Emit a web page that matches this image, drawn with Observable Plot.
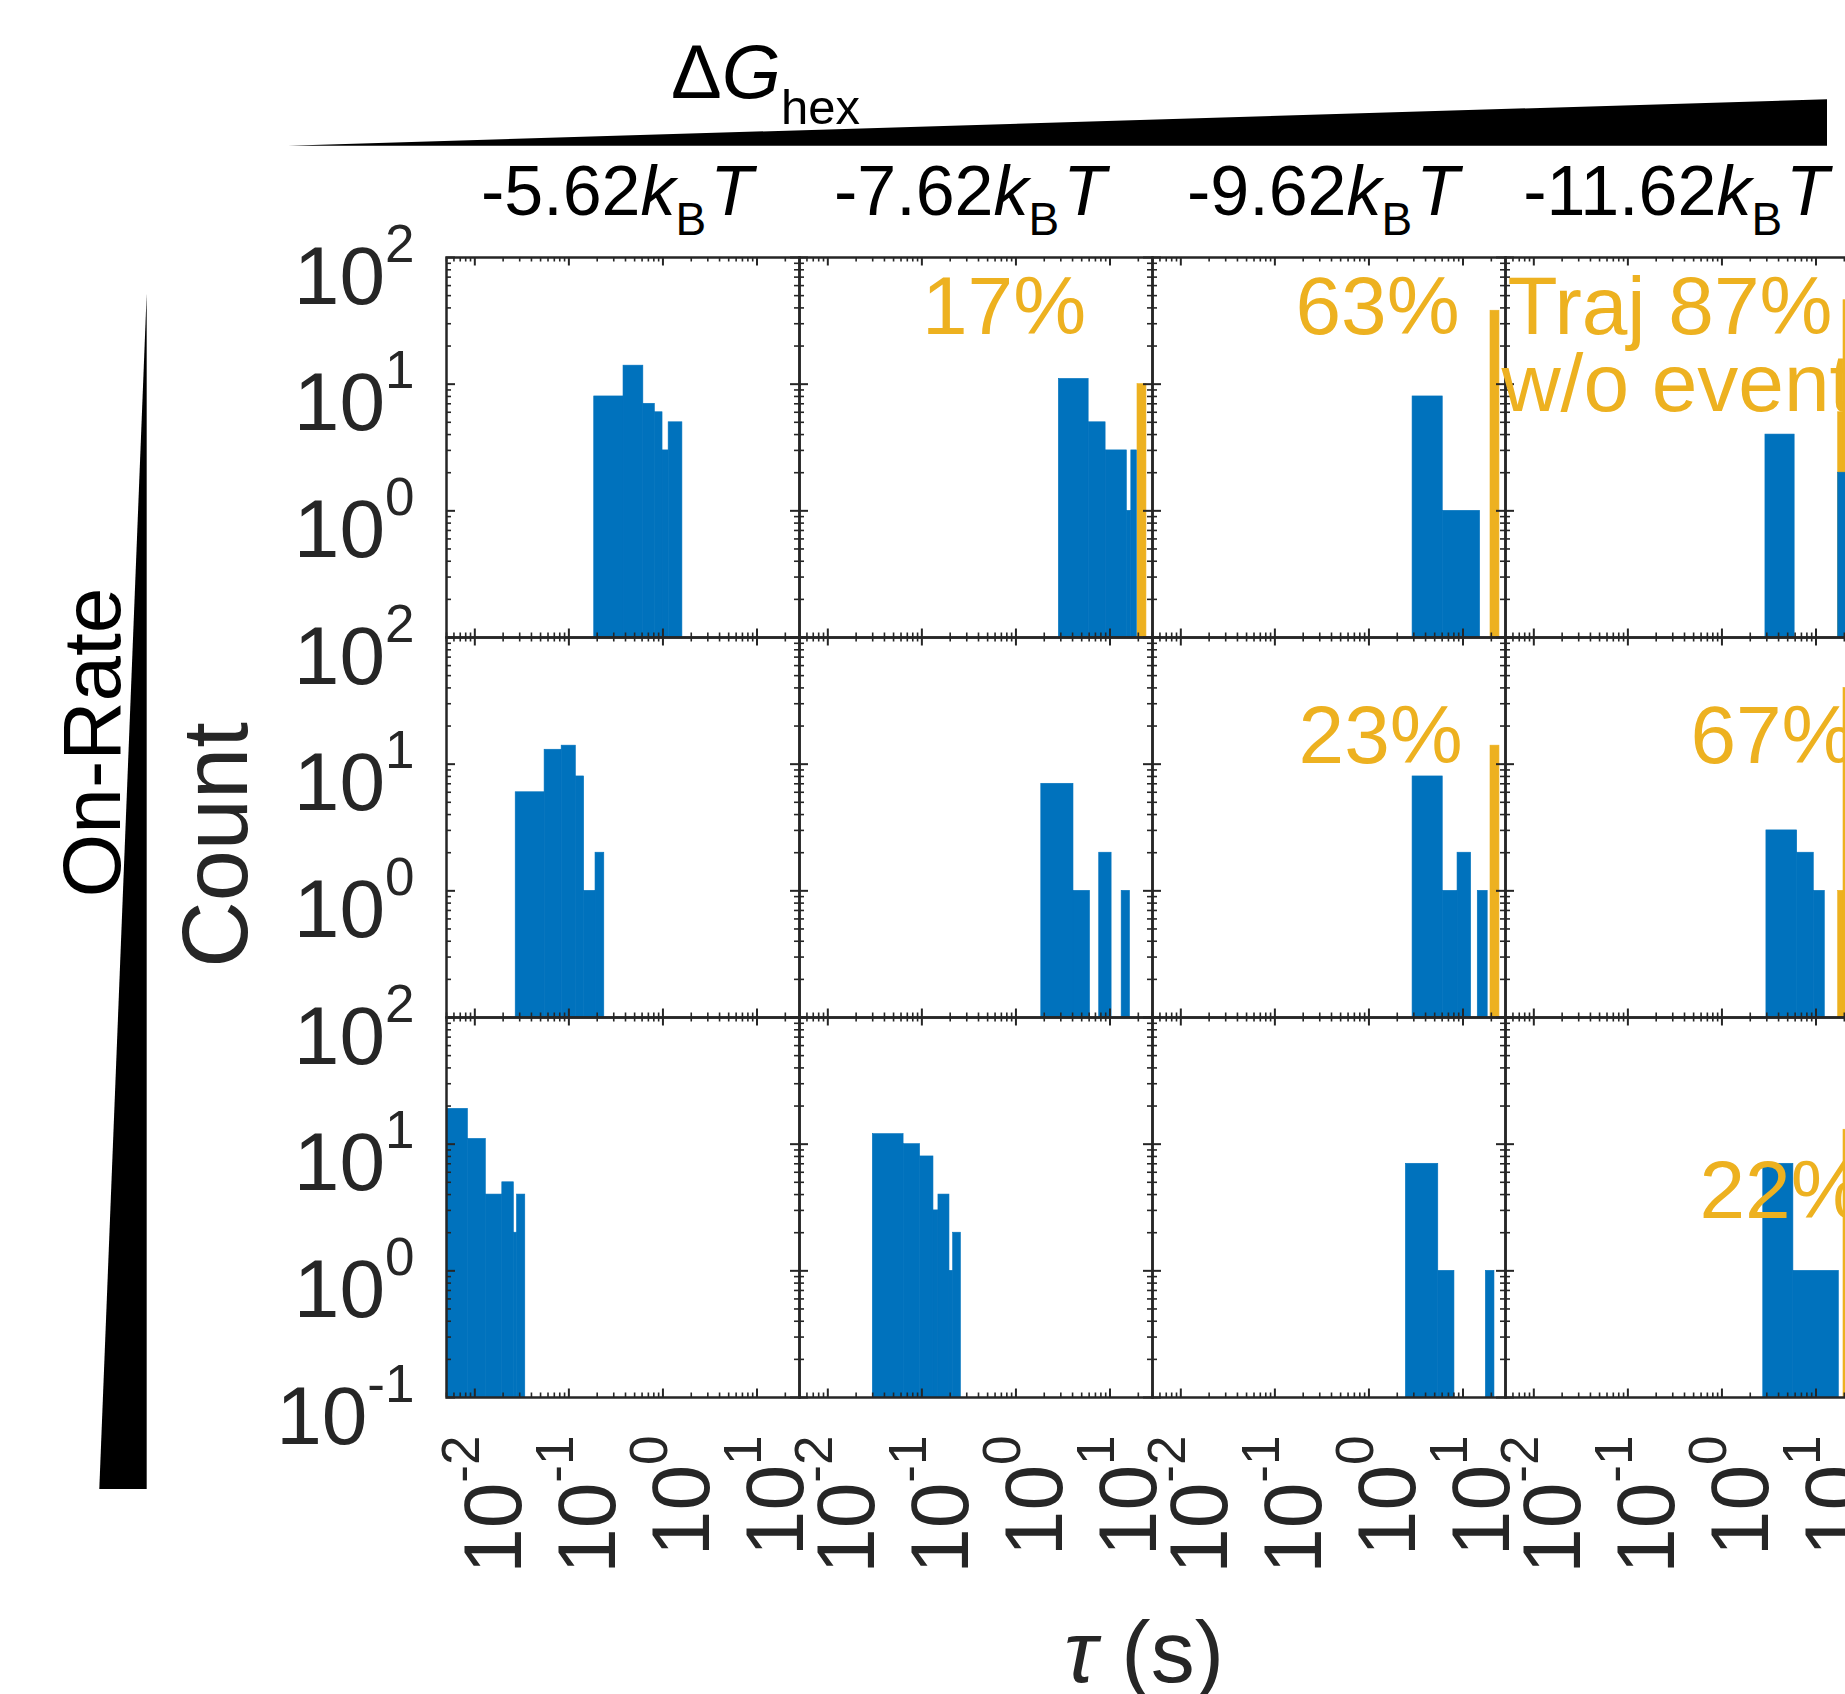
<!DOCTYPE html>
<html><head><meta charset="utf-8">
<script src="https://cdn.jsdelivr.net/npm/d3@7"></script>
<script src="https://cdn.jsdelivr.net/npm/@observablehq/plot@0.6"></script>
<style>
html, body { margin: 0; padding: 0; background: #fff; overflow: hidden; width: 1845px; height: 1694px; }
#chart { position: absolute; left: 0; top: 0; }
</style></head>
<body><div id="chart"></div>
<script>
// ---------- categories ----------
const columns = ["-5.62", "-7.62", "-9.62", "-11.62"];   // ΔG_hex in kBT
const rows = ["low", "mid", "high"];                      // on-rate (increasing downward)

// ---------- tick values ----------
const xMajorTicks = [0.01, 0.1, 1, 10];
const xMinorTicks = [0.005, 0.006, 0.007, 0.008, 0.009,
  0.02, 0.03, 0.04, 0.05, 0.06, 0.07, 0.08, 0.09,
  0.2, 0.3, 0.4, 0.5, 0.6, 0.7, 0.8, 0.9,
  2, 3, 4, 5, 6, 7, 8, 9, 20];
const yMajorTicks = [0.1, 1, 10, 100];
const yMinorTicks = [0.2, 0.3, 0.4, 0.5, 0.6, 0.7, 0.8, 0.9,
  2, 3, 4, 5, 6, 7, 8, 9, 20, 30, 40, 50, 60, 70, 80, 90];
const yLabelTicks = [1, 10, 100];
const yLabelTicksBottom = [0.1];

// ---------- dwell-time histograms (blue): [τ from (s), τ to (s), count] ----------
const hist_low_m562   = [[0.186, 0.381, 8], [0.381, 0.619, 14], [0.619, 0.82, 7], [0.82, 0.99, 6], [0.99, 1.15, 3], [1.15, 1.61, 5]];
const hist_low_m762   = [[2.86, 5.93, 11], [5.93, 8.98, 5], [8.98, 15.1, 3], [15.1, 16.85, 1], [16.85, 19.3, 3]];
const hist_low_m962   = [[2.91, 6.09, 8], [6.09, 15.2, 1]];
const hist_low_m1162  = [[2.90, 5.93, 4], [17.2, 21.5, 2]];
const hist_mid_m562   = [[0.0272, 0.0552, 6], [0.0552, 0.0838, 13], [0.0838, 0.1186, 14], [0.1186, 0.1453, 8], [0.1453, 0.192, 1], [0.192, 0.238, 2]];
const hist_mid_m762   = [[1.86, 4.09, 7], [4.09, 6.13, 1], [7.68, 10.4, 2], [13.3, 16.3, 1]];
const hist_mid_m962   = [[2.91, 6.09, 8], [6.09, 8.75, 1], [8.75, 12.2, 2], [14.35, 18.3, 1]];
const hist_mid_m1162  = [[2.97, 6.31, 3], [6.31, 9.47, 2], [9.47, 12.4, 1]];
const hist_high_m562  = [[0.0045, 0.00845, 19], [0.00845, 0.0131, 11], [0.0131, 0.0196, 4], [0.0196, 0.026, 5], [0.026, 0.0281, 2], [0.0281, 0.0344, 4]];
const hist_high_m762  = [[0.0301, 0.0639, 12], [0.0639, 0.0957, 10], [0.0957, 0.1328, 8], [0.1328, 0.150, 3], [0.150, 0.1965, 4], [0.1965, 0.215, 1], [0.215, 0.260, 2]];
const hist_high_m962  = [[2.47, 5.46, 7], [5.46, 8.11, 1], [17.5, 21.6, 1]];
const hist_high_m1162 = [[2.75, 5.75, 7], [5.75, 17.5, 1]];

// ---------- trajectories without events (orange): [τ from (s), τ to (s), count] ----------
const noEvent_low_m762   = [[19.6, 24.4, 10]];
const noEvent_low_m962   = [[19.6, 24.4, 38]];
const noEvent_low_m1162  = [[17.2, 19.6, 6], [19.6, 24.4, 46]];
const noEvent_mid_m962   = [[19.6, 24.4, 14]];
const noEvent_mid_m1162  = [[17.2, 19.6, 1], [19.6, 24.4, 40]];
const noEvent_high_m1162 = [[19.6, 24.4, 13]];

// ---------- percentage annotations (anchored in data space) ----------
const pctLabels = [
  {row: "low",  col: "-7.62",  text: "17%", x: 5.57,  y: 24.8, anchor: "end"},
  {row: "low",  col: "-9.62",  text: "63%", x: 9.2,   y: 24.8, anchor: "end"},
  {row: "low",  col: "-11.62", text: "87%", x: 14.97, y: 24.8, anchor: "end"},
  {row: "mid",  col: "-9.62",  text: "23%", x: 9.93,  y: 10.3, anchor: "end"},
  {row: "mid",  col: "-11.62", text: "67%", x: 0.462, y: 10.3, anchor: "start"},
  {row: "high", col: "-11.62", text: "22%", x: 0.577, y: 2.59, anchor: "start"},
  {row: "low",  col: "-11.62", text: "Traj", x: 0.00524, y: 24.8, anchor: "start"},
  {row: "low",  col: "-11.62", text: "w/o events", x: 0.00452, y: 6.1, anchor: "start"}
];

// ---------- build tables ----------
const blueSets = [
  ["low", "-5.62", hist_low_m562], ["low", "-7.62", hist_low_m762], ["low", "-9.62", hist_low_m962], ["low", "-11.62", hist_low_m1162],
  ["mid", "-5.62", hist_mid_m562], ["mid", "-7.62", hist_mid_m762], ["mid", "-9.62", hist_mid_m962], ["mid", "-11.62", hist_mid_m1162],
  ["high", "-5.62", hist_high_m562], ["high", "-7.62", hist_high_m762], ["high", "-9.62", hist_high_m962], ["high", "-11.62", hist_high_m1162]
];
const orangeSets = [
  ["low", "-7.62", noEvent_low_m762], ["low", "-9.62", noEvent_low_m962], ["low", "-11.62", noEvent_low_m1162],
  ["mid", "-9.62", noEvent_mid_m962], ["mid", "-11.62", noEvent_mid_m1162],
  ["high", "-11.62", noEvent_high_m1162]
];
const toTable = sets => sets.flatMap(([row, col, bins]) => bins.map(([x1, x2, count]) => ({row, col, x1, x2, count})));
const blue = toTable(blueSets);
const orange = toTable(orangeSets);
const yLabelData = rows.flatMap(r => yLabelTicks.map(v => ({row: r, v})))
  .concat(yLabelTicksBottom.map(v => ({row: rows[rows.length - 1], v})));
const xLabelData = columns.flatMap(c => xMajorTicks.map(v => ({col: c, v})));
const pow10 = v => `10^${Math.round(Math.log10(v))}`;

// ---------- layout / style ----------
const W = 1860, H = 1694, mL = 446, mR = 2, mT = 256, mB = 296.5;
const facetW = (W - mL - mR) / columns.length;
const facetH = (H - mT - mB) / rows.length;
const MAJ = 9, MIN = 5;
const AX = "#262626", BLUE = "#0072BD", ORANGE = "#EDB120";
const F = 82;
const yMin = 0.1;

const svg = Plot.plot({
  width: W, height: H,
  marginLeft: mL, marginRight: mR, marginTop: mT, marginBottom: mB,
  style: {maxWidth: "none", background: "white", fontFamily: "'Liberation Sans', Arial, Helvetica, sans-serif"},
  x: {type: "log", domain: [0.005, 28.3], axis: null},
  y: {type: "log", domain: [0.1, 100], axis: null},
  fx: {domain: columns, padding: 0, axis: null},
  fy: {domain: rows, padding: 0, axis: null},
  marks: [
    Plot.rect(orange, {x1: "x1", x2: "x2", y1: yMin, y2: "count", fx: "col", fy: "row", fill: ORANGE, stroke: ORANGE, strokeWidth: 0.6, clip: true}),
    Plot.rect(blue, {x1: "x1", x2: "x2", y1: yMin, y2: "count", fx: "col", fy: "row", fill: BLUE, stroke: BLUE, strokeWidth: 0.6, clip: true}),
    Plot.frame({stroke: AX, strokeWidth: 2.5}),
    // x ticks (bottom & top, inward)
    Plot.tickX(xMajorTicks, {x: d => d, insetTop: facetH - MAJ, stroke: AX, strokeWidth: 2}),
    Plot.tickX(xMajorTicks, {x: d => d, insetBottom: facetH - MAJ, stroke: AX, strokeWidth: 2}),
    Plot.tickX(xMinorTicks, {x: d => d, insetTop: facetH - MIN, stroke: AX, strokeWidth: 1.6}),
    Plot.tickX(xMinorTicks, {x: d => d, insetBottom: facetH - MIN, stroke: AX, strokeWidth: 1.6}),
    // y ticks (left & right, inward)
    Plot.tickY(yMajorTicks, {y: d => d, insetRight: facetW - MAJ, stroke: AX, strokeWidth: 2}),
    Plot.tickY(yMajorTicks, {y: d => d, insetLeft: facetW - MAJ, stroke: AX, strokeWidth: 2}),
    Plot.tickY(yMinorTicks, {y: d => d, insetRight: facetW - MIN, stroke: AX, strokeWidth: 1.6}),
    Plot.tickY(yMinorTicks, {y: d => d, insetLeft: facetW - MIN, stroke: AX, strokeWidth: 1.6}),
    // y tick labels (first column only)
    Plot.text(yLabelData, {y: "v", fy: "row", fx: () => columns[0], frameAnchor: "left",
      text: d => pow10(d.v), textAnchor: "end", lineAnchor: "bottom", dx: -32, dy: 46, fontSize: F, fill: AX}),
    // x tick labels (bottom row only), rotated
    Plot.text(xLabelData, {x: "v", fx: "col", fy: () => rows[rows.length - 1], frameAnchor: "bottom",
      text: d => pow10(d.v), rotate: -90, textAnchor: "end", lineAnchor: "bottom", dx: 46, dy: 38, fontSize: F, fill: AX}),
    // column headers
    Plot.text(columns, {fx: d => d, fy: () => rows[0], frameAnchor: "top", text: d => `${d}kBT`,
      textAnchor: "middle", lineAnchor: "bottom", dx: -6, dy: -43, fontSize: 70, fill: "black"}),
    // orange annotations
    Plot.text(pctLabels.filter(d => d.anchor === "end"), {x: "x", y: "y", fx: "col", fy: "row", text: "text",
      textAnchor: "end", lineAnchor: "bottom", fontSize: F, fill: ORANGE}),
    Plot.text(pctLabels.filter(d => d.anchor === "start"), {x: "x", y: "y", fx: "col", fy: "row", text: "text",
      textAnchor: "start", lineAnchor: "bottom", fontSize: F, fill: ORANGE})
  ]
});

// ---------- rich text (superscripts / subscripts) ----------
const SUP_F = 53, SUP_DY = 42;
d3.select(svg).selectAll("text").each(function () {
  const s = this.textContent;
  let m = /^10\^(-?\d+)$/.exec(s);
  const t = d3.select(this);
  if (m) {
    this.textContent = "";
    t.append("tspan").text("10");
    t.append("tspan").attr("dy", -SUP_DY).attr("font-size", SUP_F).text(m[1]);
    return;
  }
  m = /^(-?[\d.]+)kBT$/.exec(s);
  if (m) {
    this.textContent = "";
    t.append("tspan").text(m[1]);
    t.append("tspan").attr("font-style", "italic").text("k");
    t.append("tspan").attr("font-size", 46).attr("dy", 20).text("B");
    t.append("tspan").attr("font-style", "italic").attr("dy", -20).attr("dx", 4).text("T");
  }
});

// ---------- decorations: wedges & titles ----------
const deco = d3.select(svg).append("g").attr("fill", "black").attr("text-anchor", "start");
deco.append("polygon").attr("points", "288,145.7 1827,145.7 1827,99.3");
deco.append("polygon").attr("points", "146.7,293 146.7,1489 99.3,1489");
const dg = deco.append("text").attr("x", 671).attr("y", 97.5).attr("font-size", 76).attr("text-anchor", "start");
dg.append("tspan").text("Δ");
dg.append("tspan").attr("font-style", "italic").text("G");
dg.append("tspan").attr("font-size", 49).attr("dy", 26).text("hex");
deco.append("text").attr("transform", "translate(120,742.5) rotate(-90)").attr("text-anchor", "middle")
  .attr("font-size", 82).text("On-Rate");
deco.append("text").attr("transform", "translate(247,845) rotate(-90)").attr("text-anchor", "middle")
  .attr("font-size", 92).attr("fill", AX).text("Count");
const tl = deco.append("text").attr("x", 1144).attr("y", 1682).attr("text-anchor", "middle")
  .attr("font-size", 88).attr("fill", AX).style("white-space", "pre");
tl.append("tspan").attr("font-style", "italic").text("τ");
tl.append("tspan").text(" (s)");

document.getElementById("chart").appendChild(svg);
</script>
</body></html>
